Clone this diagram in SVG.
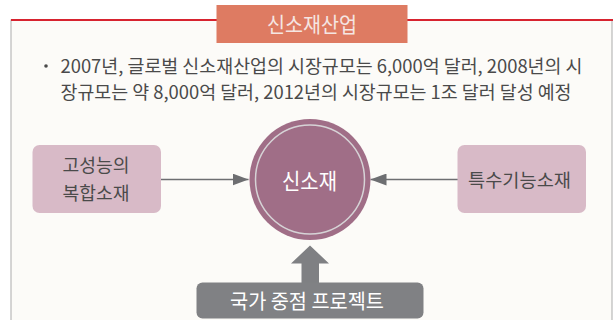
<svg xmlns="http://www.w3.org/2000/svg" width="613" height="320" viewBox="0 0 613 320">
  <defs>
    <style>
      .kr { font-family: "Noto Sans CJK KR", "Noto Sans CJK SC", sans-serif; }
      .body { font-size: 18px; fill: #4a4a4a; }
      .node { fill: #D8BAC7; }
      .nodetxt { font-size: 18.5px; fill: #4a4a4a; text-anchor: middle; }
      .conn { stroke: #6D6E71; stroke-width: 1.5; fill: none; }
    </style>
    <marker id="ah" viewBox="0 0 16 12" refX="16" refY="6" markerWidth="16" markerHeight="12" markerUnits="userSpaceOnUse" orient="auto">
      <path d="M0,0 L16,6 L0,12 Z" fill="#6D6E71"/>
    </marker>
  </defs>
  <rect x="0" y="0" width="613" height="320" fill="#ffffff"/>
  <g id="frame">
    <rect x="11" y="20" width="601" height="310" fill="#FCFBF8" stroke="#ABABAB" stroke-width="1"/>
    <line x1="11" y1="20" x2="613" y2="20" stroke="#D7232F" stroke-width="2"/>
  </g>
  <g id="title">
    <rect x="216.5" y="5" width="191" height="38" fill="#DE7B62"/>
    <text class="kr" x="312" y="32" font-size="21" fill="#F5E6E2" text-anchor="middle" textLength="90" lengthAdjust="spacingAndGlyphs">신소재산업</text>
  </g>
  <g id="description">
    <circle cx="46" cy="66" r="1.8" fill="#4a4a4a"/>
    <text class="kr body" x="60.5" y="72.5" textLength="522" lengthAdjust="spacingAndGlyphs">2007년, 글로벌 신소재산업의 시장규모는 6,000억 달러, 2008년의 시</text>
    <text class="kr body" x="60.5" y="98.5" textLength="511" lengthAdjust="spacingAndGlyphs">장규모는 약 8,000억 달러, 2012년의 시장규모는 1조 달러 달성 예정</text>
  </g>
  <g id="connectors">
    <line class="conn" x1="161" y1="179.5" x2="248.5" y2="179.5" marker-end="url(#ah)"/>
    <line class="conn" x1="458" y1="179.5" x2="370.5" y2="179.5" marker-end="url(#ah)"/>
    <path d="M310,245.5 L329,263.5 L319,263.5 L319,283 L301.5,283 L301.5,263.5 L291,263.5 Z" fill="#7F8083"/>
  </g>
  <g id="node-composite">
    <rect class="node" x="32.5" y="145" width="128.5" height="68" rx="7"/>
    <text class="kr nodetxt" x="96" y="172" textLength="67" lengthAdjust="spacingAndGlyphs">고성능의</text>
    <text class="kr nodetxt" x="96" y="200" textLength="67" lengthAdjust="spacingAndGlyphs">복합소재</text>
  </g>
  <g id="node-special">
    <rect class="node" x="457.5" y="145" width="128.5" height="68" rx="7"/>
    <text class="kr nodetxt" x="519.5" y="186.5" textLength="103" lengthAdjust="spacingAndGlyphs">특수기능소재</text>
  </g>
  <g id="node-center">
    <circle cx="310" cy="179.5" r="60.5" fill="#A06E87"/>
    <circle cx="310" cy="179.5" r="54.5" fill="none" stroke="#D6D3D6" stroke-width="1.5"/>
    <text class="kr" x="309.5" y="188.5" font-size="21.5" fill="#FFFFFF" text-anchor="middle" textLength="55" lengthAdjust="spacingAndGlyphs">신소재</text>
  </g>
  <g id="node-project">
    <rect x="196.5" y="282.5" width="227" height="36" rx="6" fill="#808184"/>
    <text class="kr" x="307" y="309" font-size="20.5" fill="#FFFFFF" text-anchor="middle" textLength="154" lengthAdjust="spacingAndGlyphs">국가 중점 프로젝트</text>
  </g>
</svg>
